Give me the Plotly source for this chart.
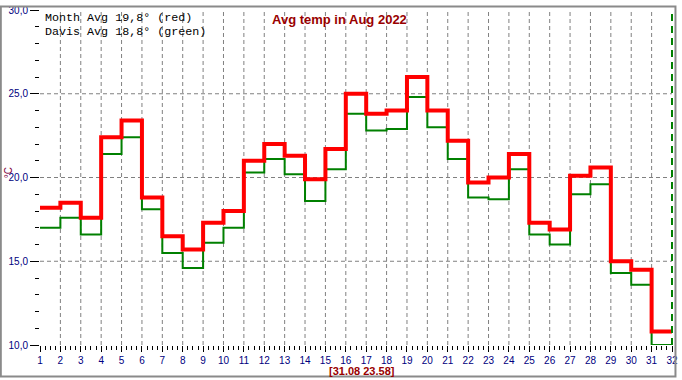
import plotly.graph_objects as go

# ---- data ----
days = list(range(1, 32))
red_avg = [18.2, 18.5, 17.6, 22.4, 23.4, 18.8, 16.5, 15.7, 17.3, 18.0,
           21.0, 22.0, 21.3, 19.9, 21.7, 25.0, 23.8, 24.0, 26.0, 24.0,
           22.2, 19.7, 20.0, 21.4, 17.3, 16.9, 20.1, 20.6, 15.0, 14.5, 10.8]
green_avg = [17.0, 17.6, 16.6, 21.4, 22.4, 18.1, 15.5, 14.6, 16.1, 17.0,
             20.3, 21.1, 20.2, 18.6, 20.5, 23.8, 22.8, 22.9, 24.8, 23.0,
             21.1, 18.8, 18.7, 20.5, 16.6, 16.0, 19.0, 19.6, 14.3, 13.6, 10.0]
x_ticks = list(range(1, 33))
y_ticks = [10, 15, 20, 25, 30]
y_ticktext = ["10,0", "15,0", "20,0", "25,0", "30,0"]
y_grid = [15, 20, 25]
x_grid = list(range(2, 32))
end_day = 32

title_text = "Avg temp in Aug 2022"
legend_red = "Month Avg 19,8° (red)"
legend_green = "Davis Avg 18,8° (green)"
footer_text = "[31.08 23.58]"

step_x = days + [end_day]
red_y = red_avg + [red_avg[-1]]
green_y = green_avg + [green_avg[-1]]

L, R, T, B = 40, 5, 4, 35
W, H = 682, 380
pw, ph = W - L - R, H - T - B

def px(xpix):
    return (xpix - L) / pw

def py(ypix):
    return (H - B - ypix) / ph

fig = go.Figure()
fig.add_trace(go.Scatter(x=step_x, y=green_y, mode="lines", line_shape="hv",
                         line=dict(color="#008000", width=2), showlegend=False))
fig.add_trace(go.Scatter(x=step_x, y=red_y, mode="lines", line_shape="hv",
                         line=dict(color="#FF0000", width=4), showlegend=False))

shapes = []
for g in x_grid:
    shapes.append(dict(type="line", xref="x", yref="y", x0=g, x1=g, y0=10, y1=30,
                       layer="below", line=dict(color="#808080", width=1, dash="4px,3px")))
for g in y_grid:
    shapes.append(dict(type="line", xref="x", yref="y", x0=1, x1=end_day, y0=g, y1=g,
                       layer="below", line=dict(color="#808080", width=1, dash="4px,3px")))
# current-time marker
shapes.append(dict(type="line", xref="paper", yref="paper", x0=px(677), x1=px(677), y0=0, y1=1,
                   layer="above", line=dict(color="#008000", width=2, dash="7px,5px")))
# outer frame
shapes.append(dict(type="rect", xref="paper", yref="paper",
                   x0=px(0.5), x1=px(680.5), y0=py(377), y1=py(0.5),
                   line=dict(color="#8a8a8a", width=2), fillcolor="rgba(0,0,0,0)"))

annotations = [
    dict(text="<b>" + title_text + "</b>", xref="paper", yref="paper",
         x=px(341.5), y=py(14), xanchor="center", yanchor="middle", showarrow=False,
         font=dict(family="Liberation Sans", size=13, color="#990000")),
    dict(text="<b>" + footer_text + "</b>", xref="paper", yref="paper",
         x=px(365), y=py(371), xanchor="center", yanchor="middle", showarrow=False,
         font=dict(family="Liberation Sans", size=11, color="#990000")),
    dict(text=legend_red, xref="paper", yref="paper",
         x=px(43), y=py(12), xanchor="left", yanchor="middle", showarrow=False,
         font=dict(family="Liberation Mono", size=11.7, color="#000000")),
    dict(text=legend_green, xref="paper", yref="paper",
         x=px(43), y=py(26), xanchor="left", yanchor="middle", showarrow=False,
         font=dict(family="Liberation Mono", size=11.7, color="#000000")),
    dict(text="°C", xref="paper", yref="paper", textangle=-90,
         x=px(8), y=py(170), xanchor="center", yanchor="middle", showarrow=False,
         font=dict(family="Liberation Sans", size=10, color="#800040")),
]

fig.update_layout(
    width=W, height=H,
    margin=dict(l=L, r=R, t=T, b=B),
    paper_bgcolor="white", plot_bgcolor="white",
    shapes=shapes, annotations=annotations, showlegend=False,
    xaxis=dict(range=[1, end_day], tickmode="array", tickvals=x_ticks,
               ticktext=[str(v) for v in x_ticks], showgrid=False, zeroline=False,
               showline=False, ticks="outside", ticklen=6, tickcolor="black", tickwidth=1,
               ticklabeloverflow="allow",
               tickfont=dict(family="Liberation Sans", size=10, color="#000080"),
               minor=dict(tick0=1, dtick=0.25, ticks="outside", ticklen=4,
                          tickcolor="black", tickwidth=1, showgrid=False)),
    yaxis=dict(range=[10, 30], tickmode="array", tickvals=y_ticks, ticktext=y_ticktext,
               showgrid=False, zeroline=False, showline=False,
               ticks="outside", ticklen=9, tickcolor="black", tickwidth=1,
               ticklabeloverflow="allow",
               tickfont=dict(family="Liberation Sans", size=10, color="#000080"),
               minor=dict(tick0=10, dtick=1, ticks="outside", ticklen=4,
                          tickcolor="black", tickwidth=1, showgrid=False)),
)

fig.write_html("out.html", config={"displayModeBar": False},
               post_script="document.body.style.margin='0';document.body.style.padding='0';")
